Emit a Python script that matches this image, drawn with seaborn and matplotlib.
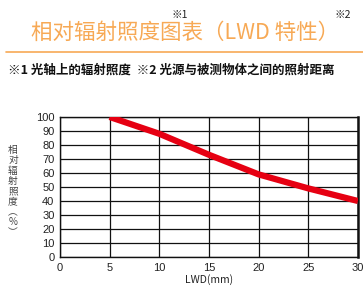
import matplotlib
matplotlib.use("Agg")
import matplotlib.pyplot as plt
import seaborn as sns
import pandas as pd
from matplotlib.lines import Line2D

lwd_mm = [5, 10, 15, 20, 25, 30]
irradiance_pct = [100, 88, 73, 59, 49, 40]
x_ticks = [0, 5, 10, 15, 20, 25, 30]
y_ticks = [0, 10, 20, 30, 40, 50, 60, 70, 80, 90, 100]
y_label_chars = ["相", "对", "辐", "射", "照", "度", "︵", "%", "︶"]

sns.set_style("white")
plt.rcParams['font.family'] = ['Noto Sans CJK SC', 'DejaVu Sans']

df = pd.DataFrame({"LWD": lwd_mm, "val": irradiance_pct})

fig = plt.figure(figsize=(3.63, 2.86), dpi=100)
ax = fig.add_axes([0.1653, 0.1014, 0.8207, 0.4896])

sns.lineplot(data=df, x="LWD", y="val", ax=ax, color="#E60012", linewidth=4.5,
             solid_capstyle="butt", zorder=3)

ax.set_xlim(0, 30)
ax.set_ylim(0, 100)
ax.set_xticks(x_ticks)
ax.set_yticks(y_ticks)
ax.tick_params(axis='both', labelsize=8, length=0, pad=4, colors="#222222")
for lab in ax.get_xticklabels() + ax.get_yticklabels():
    lab.set_family(["Liberation Sans", "DejaVu Sans"])
ax.grid(True, color="#111111", linewidth=0.9)
for s in ax.spines.values():
    s.set_color("#111111")
    s.set_linewidth(1.0)
ax.spines['right'].set_linewidth(1.8)
ax.set_xlabel("LWD(mm)", fontsize=7.5, labelpad=1, color="#222222")
ax.set_ylabel("")

# vertical y label, one character per row
y0 = 1 - 150 / 286
step = 10.3 / 286
for i, ch in enumerate(y_label_chars):
    fig.text(13 / 363, y0 - i * step, ch, fontsize=7, ha="center", va="center",
             color="#444444")

# title
orange = "#F7A955"
fig.text(0.51, 0.885, "相对辐射照度图表（LWD 特性）", fontsize=15.5, color=orange,
         ha="center", va="center")
fig.text(0.495, 0.948, "※1", fontsize=7.5, color="#222222", ha="center", va="center")
fig.text(0.945, 0.948, "※2", fontsize=7.5, color="#222222", ha="center", va="center")
fig.add_artist(Line2D([0.017, 1.0], [0.818, 0.818], transform=fig.transFigure,
                      color=orange, linewidth=1.2))
fig.text(0.022, 0.755, "※1 光轴上的辐射照度  ※2 光源与被测物体之间的照射距离",
         fontsize=9, fontweight="bold", color="#111111", ha="left", va="center")

fig.savefig("out.png", dpi=100)
